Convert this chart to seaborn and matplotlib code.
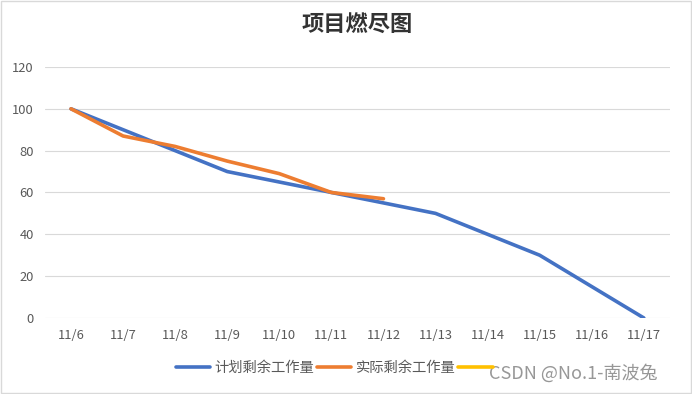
import pandas as pd
import matplotlib
matplotlib.use("Agg")
import matplotlib.pyplot as plt
from matplotlib.lines import Line2D
from matplotlib.patches import Rectangle
import seaborn as sns

# 数据
dates = ["11/6", "11/7", "11/8", "11/9", "11/10", "11/11",
         "11/12", "11/13", "11/14", "11/15", "11/16", "11/17"]
planned = [100, 90, 80, 70, 65, 60, 55, 50, 40, 30, 15, 0]
actual = [100, 87, 82, 75, 69, 60, 57]
series_names = ["计划剩余工作量", "实际剩余工作量", ""]
colors = ["#4472C4", "#ED7D31", "#FFC000"]
yticks = [0, 20, 40, 60, 80, 100, 120]

df = pd.concat([
    pd.DataFrame({"date": dates, "value": planned, "series": series_names[0]}),
    pd.DataFrame({"date": dates[:len(actual)], "value": actual, "series": series_names[1]}),
])
df["pos"] = df["date"].map({d: i for i, d in enumerate(dates)})

sns.set_style("white")
plt.rcParams["font.family"] = ["Noto Sans CJK SC", "DejaVu Sans"]
plt.rcParams["axes.unicode_minus"] = False

fig = plt.figure(figsize=(6.92, 3.94), dpi=100)
ax = fig.add_axes([0.065, 0.193, 0.903, 0.637])

sns.lineplot(data=df, x="pos", y="value", hue="series",
             palette={series_names[0]: colors[0], series_names[1]: colors[1]},
             hue_order=series_names[:2], sort=False, estimator=None,
             linewidth=2.6, legend=False, ax=ax, zorder=3)

ax.set_xlim(-0.5, len(dates) - 0.5)
ax.set_ylim(0, 120)
ax.set_xticks(range(len(dates)))
ax.set_xticklabels(dates)
ax.set_yticks(yticks)
ax.set_xlabel("")
ax.set_ylabel("")
ax.grid(axis="y", color="#D9D9D9", linewidth=0.8)
ax.grid(axis="x", visible=False)
for s in ax.spines.values():
    s.set_visible(False)
ax.tick_params(length=0, labelsize=9.3, labelcolor="#595959")
ax.tick_params(axis="x", pad=8)
ax.tick_params(axis="y", pad=8)

fig.text(0.516, 0.935, "项目燃尽图", ha="center", va="center",
         fontsize=16, fontweight="bold", color="#333333")

handles = [Line2D([], [], color=c, linewidth=2.6) for c in colors]
fig.legend(handles, series_names, loc="center", bbox_to_anchor=(0.486, 0.065),
           ncol=3, frameon=False, fontsize=10.3, handlelength=2.4,
           handletextpad=0.3, columnspacing=0.2, labelcolor="#595959")

fig.text(0.95, 0.053, "CSDN @No.1-南波兔", ha="right", va="center",
         fontsize=13, color="#8C8C8C", alpha=0.9)

fig.patches.append(Rectangle((0.001, 0.002), 0.997, 0.995, transform=fig.transFigure,
                             fill=False, edgecolor="#D9D9D9", linewidth=1))

fig.savefig("out.png", dpi=100)
